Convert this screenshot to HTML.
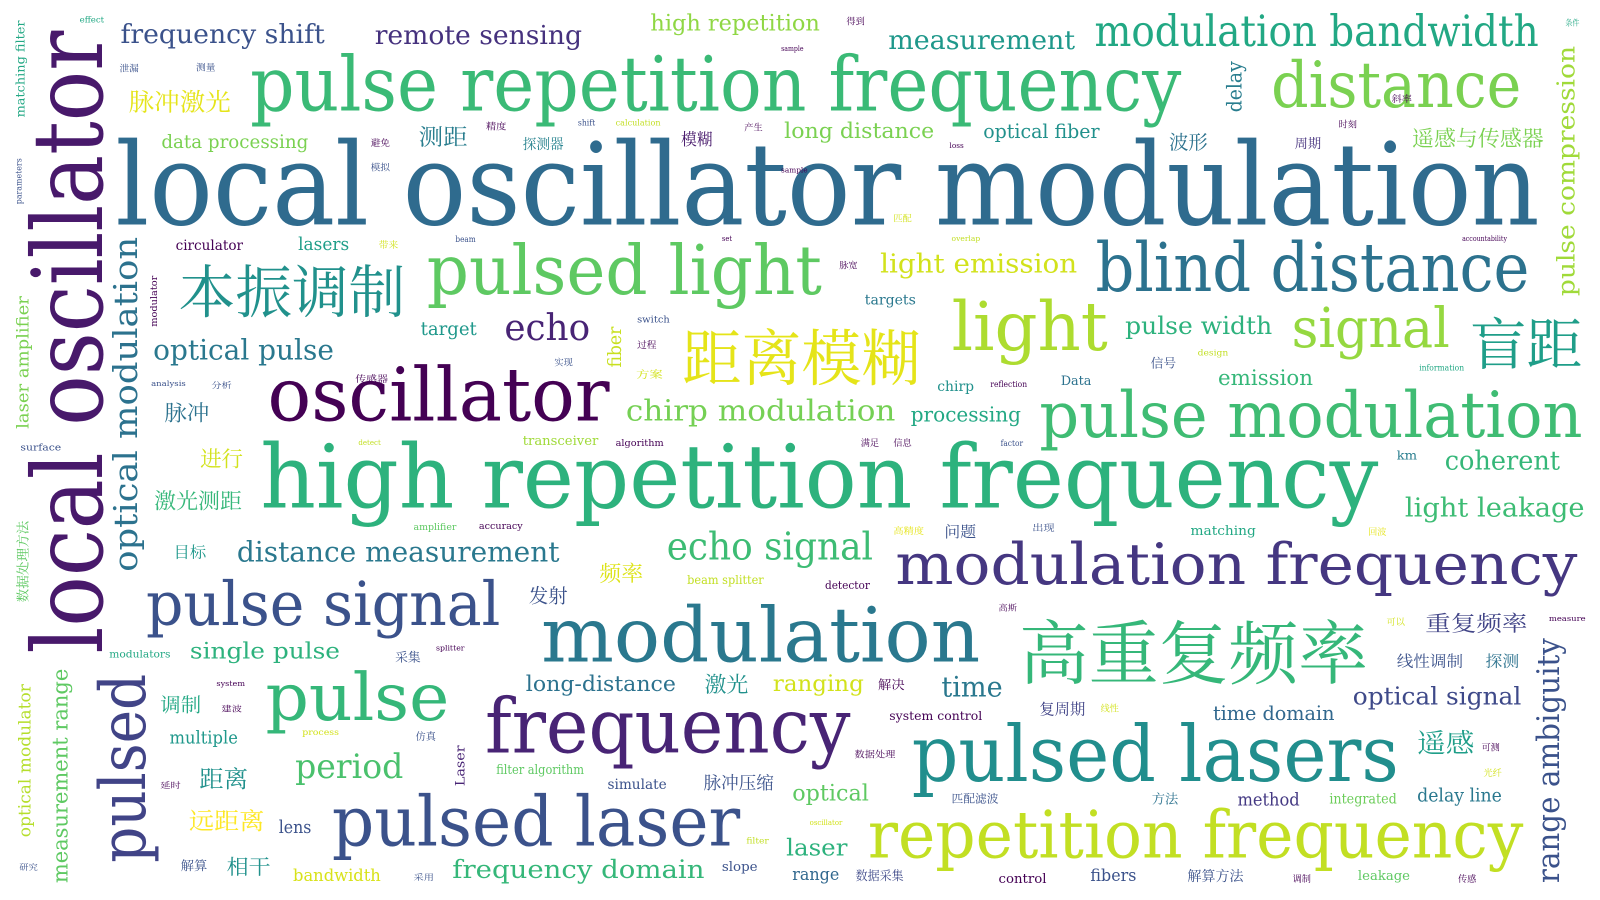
<!DOCTYPE html>
<html><head><meta charset="utf-8"><style>
html,body{margin:0;padding:0;background:#fff;width:1600px;height:900px;overflow:hidden}
svg text{font-family:"DejaVu Serif","Liberation Serif","Noto Serif CJK SC",serif}
.c{font-family:"Noto Serif CJK SC","Noto Sans CJK SC",serif !important}
</style></head><body>
<svg width="1600" height="900" viewBox="0 0 1600 900" xmlns="http://www.w3.org/2000/svg">
<g transform="scale(1.021)">
<text x="113" y="220" font-size="112" fill="#2f6b8e" textLength="1395" lengthAdjust="spacingAndGlyphs">local oscillator modulation</text>
<text x="245" y="108" font-size="74" fill="#3aba76" textLength="912" lengthAdjust="spacingAndGlyphs">pulse repetition frequency</text>
<text x="255" y="497" font-size="86" fill="#2db27d" textLength="1095" lengthAdjust="spacingAndGlyphs">high repetition frequency</text>
<text x="262" y="412" font-size="72" fill="#440154" textLength="335" lengthAdjust="spacingAndGlyphs">oscillator</text>
<text x="418" y="288" font-size="67" fill="#5ec962" textLength="387" lengthAdjust="spacingAndGlyphs">pulsed light</text>
<text class="c" x="175" y="306" font-size="56" fill="#21918c" textLength="222" lengthAdjust="spacingAndGlyphs">本振调制</text>
<text class="c" x="668" y="372" font-size="60" fill="#e5e419" textLength="234" lengthAdjust="spacingAndGlyphs">距离模糊</text>
<text x="1073" y="285" font-size="66" fill="#2c728e" textLength="425" lengthAdjust="spacingAndGlyphs">blind distance</text>
<text x="1245" y="105" font-size="62" fill="#7ad151" textLength="245" lengthAdjust="spacingAndGlyphs">distance</text>
<text x="1072" y="45" font-size="42" fill="#22a884" textLength="435" lengthAdjust="spacingAndGlyphs">modulation bandwidth</text>
<text x="932" y="343" font-size="66" fill="#addc30" textLength="153" lengthAdjust="spacingAndGlyphs">light</text>
<text x="1265" y="340" font-size="54" fill="#95d840" textLength="155" lengthAdjust="spacingAndGlyphs">signal</text>
<text class="c" x="1440" y="357" font-size="55" fill="#1f9e89" textLength="110" lengthAdjust="spacingAndGlyphs">盲距</text>
<text x="1018" y="428" font-size="62" fill="#3fbc73" textLength="532" lengthAdjust="spacingAndGlyphs">pulse modulation</text>
<text x="877" y="572" font-size="56" fill="#453781" textLength="668" lengthAdjust="spacingAndGlyphs">modulation frequency</text>
<text class="c" x="998" y="664" font-size="68" fill="#35b779" textLength="342" lengthAdjust="spacingAndGlyphs">高重复频率</text>
<text x="530" y="648" font-size="74" fill="#2a788e" textLength="430" lengthAdjust="spacingAndGlyphs">modulation</text>
<text x="475" y="737" font-size="74" fill="#482475" textLength="358" lengthAdjust="spacingAndGlyphs">frequency</text>
<text x="893" y="765" font-size="76" fill="#218e8d" textLength="477" lengthAdjust="spacingAndGlyphs">pulsed lasers</text>
<text x="325" y="828" font-size="68" fill="#3b528b" textLength="400" lengthAdjust="spacingAndGlyphs">pulsed laser</text>
<text x="850" y="840" font-size="64" fill="#c2df23" textLength="642" lengthAdjust="spacingAndGlyphs">repetition frequency</text>
<text x="260" y="705" font-size="64" fill="#35b779" textLength="180" lengthAdjust="spacingAndGlyphs">pulse</text>
<text x="143" y="612" font-size="60" fill="#3b528b" textLength="347" lengthAdjust="spacingAndGlyphs">pulse signal</text>
<text x="653" y="548" font-size="38" fill="#3dbc74" textLength="202" lengthAdjust="spacingAndGlyphs">echo signal</text>
<text x="232" y="550" font-size="27" fill="#2a788e" textLength="316" lengthAdjust="spacingAndGlyphs">distance measurement</text>

<text transform="translate(100,640) rotate(-90)" font-size="95" fill="#48196b" textLength="610" lengthAdjust="spacingAndGlyphs">local oscillator</text>
<text transform="translate(142,845) rotate(-90)" font-size="62" fill="#414487" textLength="185" lengthAdjust="spacingAndGlyphs">pulsed</text>
<text transform="translate(134,560) rotate(-90)" font-size="32" fill="#2c728e" textLength="328" lengthAdjust="spacingAndGlyphs">optical modulation</text>
<text transform="translate(1542,290) rotate(-90)" font-size="24" fill="#a0da39" textLength="245" lengthAdjust="spacingAndGlyphs">pulse compression</text>
<text transform="translate(1527,865) rotate(-90)" font-size="30" fill="#3b528b" textLength="240" lengthAdjust="spacingAndGlyphs">range ambiguity</text>
<text transform="translate(66,865) rotate(-90)" font-size="21" fill="#5ec962" textLength="210" lengthAdjust="spacingAndGlyphs">measurement range</text>
<text transform="translate(1216,110) rotate(-90)" font-size="20" fill="#287d8e" textLength="50" lengthAdjust="spacingAndGlyphs">delay</text>
<text transform="translate(608,360) rotate(-90)" font-size="18" fill="#c8e020" textLength="40" lengthAdjust="spacingAndGlyphs">fiber</text>
<text transform="translate(30,820) rotate(-90)" font-size="16" fill="#b5de2b" textLength="150" lengthAdjust="spacingAndGlyphs">optical modulator</text>
<text transform="translate(28,420) rotate(-90)" font-size="16" fill="#7ad151" textLength="130" lengthAdjust="spacingAndGlyphs">laser amplifier</text>
<text transform="translate(24,115) rotate(-90)" font-size="12" fill="#22a884" textLength="95" lengthAdjust="spacingAndGlyphs">matching filter</text>
<text class="c" transform="translate(27,590) rotate(-90)" font-size="13" fill="#5ec962" textLength="80" lengthAdjust="spacingAndGlyphs">数据处理方法</text>
<text transform="translate(455,770) rotate(-90)" font-size="13" fill="#482475" textLength="40" lengthAdjust="spacingAndGlyphs">Laser</text>
<text transform="translate(154,320) rotate(-90)" font-size="9" fill="#440154" textLength="50" lengthAdjust="spacingAndGlyphs">modulator</text>
<text transform="translate(21,200) rotate(-90)" font-size="8" fill="#3b528b" textLength="45" lengthAdjust="spacingAndGlyphs">parameters</text>

<text x="118" y="42" font-size="26" fill="#3b528b" textLength="200" lengthAdjust="spacingAndGlyphs">frequency shift</text>
<text x="367" y="43" font-size="26" fill="#46327e" textLength="203" lengthAdjust="spacingAndGlyphs">remote sensing</text>
<text x="637" y="30" font-size="22" fill="#8fd744" textLength="166" lengthAdjust="spacingAndGlyphs">high repetition</text>
<text x="870" y="48" font-size="26" fill="#1f988b" textLength="183" lengthAdjust="spacingAndGlyphs">measurement</text>
<text class="c" x="126" y="108" font-size="24" fill="#e5e419" textLength="100" lengthAdjust="spacingAndGlyphs">脉冲激光</text>
<text x="158" y="145" font-size="18" fill="#7ad151" textLength="144" lengthAdjust="spacingAndGlyphs">data processing</text>
<text class="c" x="410" y="142" font-size="22" fill="#287d8e" textLength="48" lengthAdjust="spacingAndGlyphs">测距</text>
<text class="c" x="512" y="146" font-size="14" fill="#26828e" textLength="40" lengthAdjust="spacingAndGlyphs">探测器</text>
<text class="c" x="667" y="142" font-size="16" fill="#481a6c" textLength="31" lengthAdjust="spacingAndGlyphs">模糊</text>
<text x="768" y="135" font-size="21" fill="#7ad151" textLength="147" lengthAdjust="spacingAndGlyphs">long distance</text>
<text x="963" y="135" font-size="19" fill="#21918c" textLength="114" lengthAdjust="spacingAndGlyphs">optical fiber</text>
<text class="c" x="1145" y="146" font-size="19" fill="#2c728e" textLength="38" lengthAdjust="spacingAndGlyphs">波形</text>
<text class="c" x="1268" y="145" font-size="13" fill="#46327e" textLength="26" lengthAdjust="spacingAndGlyphs">周期</text>
<text class="c" x="1383" y="143" font-size="21" fill="#7ad151" textLength="129" lengthAdjust="spacingAndGlyphs">遥感与传感器</text>
<text x="172" y="245" font-size="14" fill="#440154" textLength="66" lengthAdjust="spacingAndGlyphs">circulator</text>
<text x="292" y="245" font-size="17" fill="#1f9e89" textLength="50" lengthAdjust="spacingAndGlyphs">lasers</text>
<text x="862" y="267" font-size="26" fill="#d2e21b" textLength="193" lengthAdjust="spacingAndGlyphs">light emission</text>
<text x="847" y="298" font-size="14" fill="#2a788e" textLength="50" lengthAdjust="spacingAndGlyphs">targets</text>
<text x="412" y="328" font-size="18" fill="#1f988b" textLength="55" lengthAdjust="spacingAndGlyphs">target</text>
<text x="494" y="333" font-size="36" fill="#482475" textLength="84" lengthAdjust="spacingAndGlyphs">echo</text>
<text x="150" y="352" font-size="27" fill="#2a788e" textLength="177" lengthAdjust="spacingAndGlyphs">optical pulse</text>
<text x="1102" y="327" font-size="24" fill="#2db27d" textLength="144" lengthAdjust="spacingAndGlyphs">pulse width</text>
<text x="613" y="412" font-size="28" fill="#75d054" textLength="264" lengthAdjust="spacingAndGlyphs">chirp modulation</text>
<text x="892" y="413" font-size="20" fill="#22a884" textLength="108" lengthAdjust="spacingAndGlyphs">processing</text>
<text x="1193" y="377" font-size="21" fill="#35b779" textLength="93" lengthAdjust="spacingAndGlyphs">emission</text>
<text x="918" y="383" font-size="14" fill="#21918c" textLength="36" lengthAdjust="spacingAndGlyphs">chirp</text>
<text x="1039" y="377" font-size="13" fill="#2c728e" textLength="30" lengthAdjust="spacingAndGlyphs">Data</text>
<text class="c" x="1127" y="360" font-size="12" fill="#3b528b" textLength="25" lengthAdjust="spacingAndGlyphs">信号</text>
<text class="c" x="161" y="412" font-size="21" fill="#2c728e" textLength="44" lengthAdjust="spacingAndGlyphs">脉冲</text>
<text class="c" x="196" y="457" font-size="21" fill="#d2e21b" textLength="42" lengthAdjust="spacingAndGlyphs">进行</text>
<text class="c" x="151" y="498" font-size="21" fill="#35b779" textLength="86" lengthAdjust="spacingAndGlyphs">激光测距</text>
<text x="1415" y="460" font-size="26" fill="#35b779" textLength="113" lengthAdjust="spacingAndGlyphs">coherent</text>
<text x="1376" y="506" font-size="26" fill="#3dbc74" textLength="176" lengthAdjust="spacingAndGlyphs">light leakage</text>
<text x="1368" y="450" font-size="12" fill="#287d8e" textLength="20" lengthAdjust="spacingAndGlyphs">km</text>
<text x="512" y="436" font-size="13" fill="#a0da39" textLength="74" lengthAdjust="spacingAndGlyphs">transceiver</text>
<text class="c" x="170" y="546" font-size="15" fill="#1f988b" textLength="32" lengthAdjust="spacingAndGlyphs">目标</text>
<text class="c" x="925" y="526" font-size="15" fill="#3b528b" textLength="31" lengthAdjust="spacingAndGlyphs">问题</text>
<text x="1166" y="524" font-size="13" fill="#22a884" textLength="64" lengthAdjust="spacingAndGlyphs">matching</text>
<text class="c" x="587" y="569" font-size="21" fill="#dde318" textLength="43" lengthAdjust="spacingAndGlyphs">频率</text>
<text class="c" x="518" y="590" font-size="19" fill="#3b528b" textLength="38" lengthAdjust="spacingAndGlyphs">发射</text>
<text x="673" y="572" font-size="12" fill="#c2df23" textLength="75" lengthAdjust="spacingAndGlyphs">beam splitter</text>
<text x="808" y="577" font-size="11" fill="#440154" textLength="44" lengthAdjust="spacingAndGlyphs">detector</text>
<text class="c" x="1396" y="618" font-size="21" fill="#414487" textLength="100" lengthAdjust="spacingAndGlyphs">重复频率</text>
<text class="c" x="1368" y="653" font-size="15" fill="#3b528b" textLength="65" lengthAdjust="spacingAndGlyphs">线性调制</text>
<text class="c" x="1455" y="653" font-size="15" fill="#2c728e" textLength="33" lengthAdjust="spacingAndGlyphs">探测</text>
<text x="1325" y="690" font-size="24" fill="#3e4989" textLength="165" lengthAdjust="spacingAndGlyphs">optical signal</text>
<text x="186" y="645" font-size="22" fill="#2db27d" textLength="147" lengthAdjust="spacingAndGlyphs">single pulse</text>
<text x="515" y="677" font-size="21" fill="#2c728e" textLength="147" lengthAdjust="spacingAndGlyphs">long-distance</text>
<text class="c" x="690" y="678" font-size="21" fill="#21918c" textLength="43" lengthAdjust="spacingAndGlyphs">激光</text>
<text x="757" y="677" font-size="22" fill="#d2e21b" textLength="89" lengthAdjust="spacingAndGlyphs">ranging</text>
<text x="922" y="682" font-size="27" fill="#2a788e" textLength="60" lengthAdjust="spacingAndGlyphs">time</text>
<text x="1188" y="705" font-size="19" fill="#31688e" textLength="119" lengthAdjust="spacingAndGlyphs">time domain</text>
<text class="c" x="1018" y="700" font-size="15" fill="#414487" textLength="45" lengthAdjust="spacingAndGlyphs">复周期</text>
<text class="c" x="157" y="697" font-size="19" fill="#22a884" textLength="40" lengthAdjust="spacingAndGlyphs">调制</text>
<text x="166" y="728" font-size="17" fill="#1f988b" textLength="67" lengthAdjust="spacingAndGlyphs">multiple</text>
<text class="c" x="1388" y="737" font-size="26" fill="#1f9e89" textLength="56" lengthAdjust="spacingAndGlyphs">遥感</text>
<text x="289" y="762" font-size="33" fill="#4ac16d" textLength="106" lengthAdjust="spacingAndGlyphs">period</text>
<text class="c" x="195" y="771" font-size="23" fill="#21918c" textLength="48" lengthAdjust="spacingAndGlyphs">距离</text>
<text x="486" y="758" font-size="13" fill="#5ec962" textLength="86" lengthAdjust="spacingAndGlyphs">filter algorithm</text>
<text x="595" y="773" font-size="14" fill="#3b528b" textLength="58" lengthAdjust="spacingAndGlyphs">simulate</text>
<text class="c" x="689" y="773" font-size="17" fill="#3b528b" textLength="69" lengthAdjust="spacingAndGlyphs">脉冲压缩</text>
<text x="776" y="784" font-size="22" fill="#5ec962" textLength="75" lengthAdjust="spacingAndGlyphs">optical</text>
<text x="1212" y="789" font-size="17" fill="#443983" textLength="61" lengthAdjust="spacingAndGlyphs">method</text>
<text x="1302" y="787" font-size="14" fill="#6ccd5a" textLength="66" lengthAdjust="spacingAndGlyphs">integrated</text>
<text x="1388" y="785" font-size="18" fill="#2a788e" textLength="83" lengthAdjust="spacingAndGlyphs">delay line</text>
<text class="c" x="185" y="812" font-size="23" fill="#fde725" textLength="74" lengthAdjust="spacingAndGlyphs">远距离</text>
<text x="273" y="816" font-size="17" fill="#3b528b" textLength="32" lengthAdjust="spacingAndGlyphs">lens</text>
<text x="770" y="838" font-size="23" fill="#2db27d" textLength="60" lengthAdjust="spacingAndGlyphs">laser</text>
<text class="c" x="222" y="856" font-size="20" fill="#21918c" textLength="43" lengthAdjust="spacingAndGlyphs">相干</text>
<text x="287" y="863" font-size="16" fill="#d8e219" textLength="86" lengthAdjust="spacingAndGlyphs">bandwidth</text>
<text x="443" y="860" font-size="25" fill="#35b779" textLength="247" lengthAdjust="spacingAndGlyphs">frequency domain</text>
<text x="707" y="853" font-size="13" fill="#3b528b" textLength="35" lengthAdjust="spacingAndGlyphs">slope</text>
<text x="776" y="862" font-size="16" fill="#31688e" textLength="46" lengthAdjust="spacingAndGlyphs">range</text>
<text class="c" x="838" y="862" font-size="12" fill="#3e4989" textLength="47" lengthAdjust="spacingAndGlyphs">数据采集</text>
<text x="978" y="865" font-size="13" fill="#440154" textLength="47" lengthAdjust="spacingAndGlyphs">control</text>
<text x="1068" y="863" font-size="16" fill="#3b528b" textLength="45" lengthAdjust="spacingAndGlyphs">fibers</text>
<text class="c" x="1163" y="863" font-size="14" fill="#3b528b" textLength="55" lengthAdjust="spacingAndGlyphs">解算方法</text>
<text x="1330" y="862" font-size="13" fill="#5ec962" textLength="51" lengthAdjust="spacingAndGlyphs">leakage</text>
<text x="871" y="705" font-size="12" fill="#440154" textLength="91" lengthAdjust="spacingAndGlyphs">system control</text>
<text class="c" x="860" y="675" font-size="12" fill="#440154" textLength="26" lengthAdjust="spacingAndGlyphs">解决</text>
<text class="c" x="932" y="786" font-size="11" fill="#3b528b" textLength="46" lengthAdjust="spacingAndGlyphs">匹配滤波</text>
<text class="c" x="1128" y="787" font-size="13" fill="#2c728e" textLength="26" lengthAdjust="spacingAndGlyphs">方法</text>
<text class="c" x="387" y="648" font-size="12" fill="#3b528b" textLength="25" lengthAdjust="spacingAndGlyphs">采集</text>
<text class="c" x="177" y="852" font-size="12" fill="#3b528b" textLength="26" lengthAdjust="spacingAndGlyphs">解算</text>
<text x="107" y="644" font-size="10" fill="#22a884" textLength="60" lengthAdjust="spacingAndGlyphs">modulators</text>
<text x="405" y="519" font-size="9" fill="#5ec962" textLength="42" lengthAdjust="spacingAndGlyphs">amplifier</text>
<text x="469" y="518" font-size="9" fill="#440154" textLength="43" lengthAdjust="spacingAndGlyphs">accuracy</text>
<text x="78" y="22" font-size="8" fill="#22a884" textLength="24" lengthAdjust="spacingAndGlyphs">effect</text>
<text class="c" x="117" y="70" font-size="9" fill="#3b528b" textLength="19" lengthAdjust="spacingAndGlyphs">泄漏</text>
<text class="c" x="192" y="69" font-size="9" fill="#3b528b" textLength="19" lengthAdjust="spacingAndGlyphs">测量</text>
<text class="c" x="348" y="374" font-size="9" fill="#440154" textLength="32" lengthAdjust="spacingAndGlyphs">传感器</text>
<text class="c" x="543" y="358" font-size="9" fill="#3b528b" textLength="18" lengthAdjust="spacingAndGlyphs">实现</text>
<text class="c" x="623" y="370" font-size="10" fill="#d2e21b" textLength="26" lengthAdjust="spacingAndGlyphs">方案</text>
<text class="c" x="1011" y="520" font-size="9" fill="#3b528b" textLength="22" lengthAdjust="spacingAndGlyphs">出现</text>
<text class="c" x="1358" y="612" font-size="9" fill="#d2e21b" textLength="18" lengthAdjust="spacingAndGlyphs">可以</text>
<text x="296" y="720" font-size="8" fill="#d2e21b" textLength="36" lengthAdjust="spacingAndGlyphs">process</text>
<text class="c" x="407" y="725" font-size="10" fill="#3b528b" textLength="20" lengthAdjust="spacingAndGlyphs">仿真</text>
<text class="c" x="1363" y="100" font-size="9" fill="#440154" textLength="20" lengthAdjust="spacingAndGlyphs">斜率</text>
<text class="c" x="875" y="523" font-size="9" fill="#e5e419" textLength="30" lengthAdjust="spacingAndGlyphs">高精度</text>
<text class="c" x="1340" y="524" font-size="9" fill="#e5e419" textLength="18" lengthAdjust="spacingAndGlyphs">回波</text>
<text class="c" x="1451" y="735" font-size="9" fill="#440154" textLength="18" lengthAdjust="spacingAndGlyphs">可测</text>
<text class="c" x="1453" y="760" font-size="9" fill="#d2e21b" textLength="18" lengthAdjust="spacingAndGlyphs">光纤</text>
<text class="c" x="1266" y="864" font-size="9" fill="#440154" textLength="18" lengthAdjust="spacingAndGlyphs">调制</text>
<text class="c" x="1428" y="864" font-size="9" fill="#440154" textLength="18" lengthAdjust="spacingAndGlyphs">传感</text>
<text class="c" x="19" y="852" font-size="8" fill="#3b528b" textLength="18" lengthAdjust="spacingAndGlyphs">研究</text>
<text class="c" x="829" y="24" font-size="9" fill="#440154" textLength="18" lengthAdjust="spacingAndGlyphs">得到</text>
<text class="c" x="1311" y="125" font-size="9" fill="#440154" textLength="18" lengthAdjust="spacingAndGlyphs">时刻</text>
<text class="c" x="843" y="437" font-size="9" fill="#440154" textLength="18" lengthAdjust="spacingAndGlyphs">满足</text>
<text class="c" x="875" y="437" font-size="9" fill="#440154" textLength="18" lengthAdjust="spacingAndGlyphs">信息</text>
<text x="1390" y="363" font-size="8" fill="#22a884" textLength="44" lengthAdjust="spacingAndGlyphs">information</text>
<text x="1173" y="348" font-size="8" fill="#c2df23" textLength="30" lengthAdjust="spacingAndGlyphs">design</text>
<text x="970" y="379" font-size="8" fill="#440154" textLength="36" lengthAdjust="spacingAndGlyphs">reflection</text>
<text x="20" y="441" font-size="9" fill="#3b528b" textLength="40" lengthAdjust="spacingAndGlyphs">surface</text>
<text x="603" y="437" font-size="9" fill="#440154" textLength="47" lengthAdjust="spacingAndGlyphs">algorithm</text>
<text x="980" y="437" font-size="8" fill="#3b528b" textLength="22" lengthAdjust="spacingAndGlyphs">factor</text>
<text x="624" y="316" font-size="9" fill="#3b528b" textLength="32" lengthAdjust="spacingAndGlyphs">switch</text>
<text class="c" x="624" y="341" font-size="9" fill="#440154" textLength="19" lengthAdjust="spacingAndGlyphs">过程</text>
<text class="c" x="822" y="263" font-size="9" fill="#440154" textLength="18" lengthAdjust="spacingAndGlyphs">脉宽</text>
<text class="c" x="875" y="217" font-size="9" fill="#d2e21b" textLength="18" lengthAdjust="spacingAndGlyphs">匹配</text>
<text class="c" x="1533" y="25" font-size="8" fill="#22a884" textLength="14" lengthAdjust="spacingAndGlyphs">条件</text>
<text x="603" y="123" font-size="8" fill="#c2df23" textLength="44" lengthAdjust="spacingAndGlyphs">calculation</text>
<text x="566" y="123" font-size="8" fill="#3b528b" textLength="17" lengthAdjust="spacingAndGlyphs">shift</text>
<text class="c" x="729" y="128" font-size="9" fill="#440154" textLength="18" lengthAdjust="spacingAndGlyphs">产生</text>
<text class="c" x="476" y="127" font-size="9" fill="#440154" textLength="20" lengthAdjust="spacingAndGlyphs">精度</text>
<text class="c" x="363" y="143" font-size="9" fill="#440154" textLength="19" lengthAdjust="spacingAndGlyphs">避免</text>
<text class="c" x="363" y="167" font-size="9" fill="#3b528b" textLength="19" lengthAdjust="spacingAndGlyphs">模拟</text>
<text class="c" x="371" y="243" font-size="9" fill="#d2e21b" textLength="19" lengthAdjust="spacingAndGlyphs">带来</text>
<text x="446" y="237" font-size="8" fill="#3b528b" textLength="20" lengthAdjust="spacingAndGlyphs">beam</text>
<text x="1517" y="608" font-size="7" fill="#440154" textLength="36" lengthAdjust="spacingAndGlyphs">measure</text>
<text class="c" x="1078" y="697" font-size="9" fill="#d2e21b" textLength="18" lengthAdjust="spacingAndGlyphs">线性</text>
<text class="c" x="837" y="742" font-size="9" fill="#440154" textLength="40" lengthAdjust="spacingAndGlyphs">数据处理</text>
<text class="c" x="157" y="772" font-size="8" fill="#440154" textLength="20" lengthAdjust="spacingAndGlyphs">延时</text>
<text class="c" x="217" y="697" font-size="8" fill="#440154" textLength="20" lengthAdjust="spacingAndGlyphs">建波</text>
<text x="212" y="672" font-size="7" fill="#440154" textLength="28" lengthAdjust="spacingAndGlyphs">system</text>
<text x="427" y="637" font-size="7" fill="#440154" textLength="28" lengthAdjust="spacingAndGlyphs">splitter</text>
<text class="c" x="405" y="862" font-size="8" fill="#3b528b" textLength="20" lengthAdjust="spacingAndGlyphs">采用</text>
<text x="731" y="826" font-size="8" fill="#c2df23" textLength="22" lengthAdjust="spacingAndGlyphs">filter</text>
<text x="793" y="808" font-size="7" fill="#d2e21b" textLength="32" lengthAdjust="spacingAndGlyphs">oscillator</text>
<text x="351" y="436" font-size="7" fill="#c2df23" textLength="22" lengthAdjust="spacingAndGlyphs">detect</text>
<text class="c" x="978" y="598" font-size="8" fill="#440154" textLength="18" lengthAdjust="spacingAndGlyphs">高斯</text>
<text class="c" x="207" y="380" font-size="8" fill="#3b528b" textLength="20" lengthAdjust="spacingAndGlyphs">分析</text>
<text x="148" y="378" font-size="7" fill="#3b528b" textLength="34" lengthAdjust="spacingAndGlyphs">analysis</text>
<text x="1432" y="236" font-size="7" fill="#440154" textLength="44" lengthAdjust="spacingAndGlyphs">accountability</text>
<text x="932" y="236" font-size="7" fill="#c2df23" textLength="28" lengthAdjust="spacingAndGlyphs">overlap</text>
<text x="707" y="236" font-size="7" fill="#440154" textLength="10" lengthAdjust="spacingAndGlyphs">set</text>
<text x="765" y="169" font-size="7" fill="#440154" textLength="26" lengthAdjust="spacingAndGlyphs">sample</text>
<text x="765" y="50" font-size="7" fill="#440154" textLength="22" lengthAdjust="spacingAndGlyphs">sample</text>
<text x="930" y="145" font-size="7" fill="#440154" textLength="14" lengthAdjust="spacingAndGlyphs">loss</text>
</g>
</svg>
</body></html>
